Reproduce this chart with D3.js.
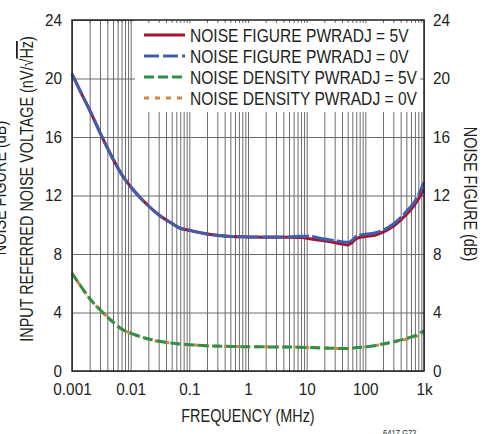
<!DOCTYPE html>
<html><head><meta charset="utf-8">
<script src="https://cdn.jsdelivr.net/npm/d3@7"></script>
<style>
html,body{margin:0;padding:0;background:#fff;}
svg{display:block;}
text{font-family:'Liberation Sans',Arial,sans-serif;fill:#231f20;}
</style></head>
<body>
<svg id="chart" width="487" height="434"></svg>
<script>
// ---- data ----
const freqMHz = [0.001,0.0015,0.002,0.003,0.005,0.007,0.01,0.02,0.03,0.05,0.07,0.1,0.2,0.5,1,2,5,8,12,20,30,40,50,60,70,100,150,200,300,500,700,1000];
const nf5V  = [20.3,18.85,17.84,16.3,14.5,13.45,12.6,11.3,10.68,10.1,9.76,9.62,9.37,9.2,9.17,9.15,9.14,9.12,9.03,8.9,8.78,8.68,8.62,8.8,9.05,9.2,9.3,9.5,9.9,10.7,11.4,12.45];
const nf0V  = [20.3,18.85,17.84,16.3,14.5,13.45,12.6,11.3,10.68,10.1,9.76,9.62,9.37,9.2,9.17,9.16,9.17,9.22,9.2,9.02,8.92,8.84,8.8,8.95,9.2,9.35,9.45,9.62,10.05,10.9,11.6,12.9];
const nd5V  = [6.68,5.65,4.95,4.19,3.35,2.87,2.59,2.19,2.03,1.91,1.84,1.8,1.72,1.68,1.66,1.65,1.64,1.62,1.6,1.57,1.55,1.54,1.54,1.56,1.6,1.65,1.75,1.85,2.0,2.22,2.42,2.75];
const nd0V  = [6.68,5.65,4.95,4.19,3.35,2.87,2.59,2.19,2.03,1.91,1.84,1.8,1.72,1.68,1.66,1.65,1.64,1.62,1.6,1.57,1.55,1.54,1.54,1.56,1.6,1.65,1.74,1.83,1.97,2.17,2.35,2.55];
const xTickValues = [0.001,0.01,0.1,1,10,100,1000];
const xTickLabels = ["0.001","0.01","0.1","1","10","100","1k"];
const yTickValues = [0,4,8,12,16,20,24];
const legendLabels = ["NOISE FIGURE PWRADJ = 5V","NOISE FIGURE PWRADJ = 0V","NOISE DENSITY PWRADJ = 5V","NOISE DENSITY PWRADJ = 0V"];

// ---- layout ----
const L=72, R=424, T=20, B=371;
const svg = d3.select("#chart");
const x = d3.scaleLog().domain([0.001,1000]).range([L,R]);
const y = d3.scaleLinear().domain([0,24]).range([B,T]);

// condensed look: squeeze glyphs horizontally
function condense(sel, f){
  sel.each(function(){
    const w = this.getComputedTextLength();
    if (w>0) { this.setAttribute("textLength", (w*f).toFixed(2)); this.setAttribute("lengthAdjust","spacingAndGlyphs"); }
  });
}

const minor = [];
for (let e=-3;e<3;e++) for (let m=1;m<10;m++) minor.push(m*Math.pow(10,e));
minor.push(1000);

// grid
const gridColor = "#6d6d6d";
const gx = svg.append("g").attr("transform",`translate(0,${B})`)
  .call(d3.axisBottom(x).tickValues(minor).tickSize(-(B-T)).tickFormat(""));
gx.select(".domain").remove();
gx.selectAll("line").attr("stroke",gridColor).attr("stroke-width",1);
const gy = svg.append("g").attr("transform",`translate(${L},0)`)
  .call(d3.axisLeft(y).tickValues(yTickValues).tickSize(-(R-L)).tickFormat(""));
gy.select(".domain").remove();
gy.selectAll("line").attr("stroke",gridColor).attr("stroke-width",1);

// legend background
svg.append("rect").attr("x",135).attr("y",T).attr("width",R-135).attr("height",92).attr("fill","#fff");
// short inward ticks on top edge & right edge
const tt = svg.append("g").attr("transform",`translate(0,${T})`)
  .call(d3.axisTop(x).tickValues(minor).tickSize(-3).tickFormat(""));
tt.select(".domain").remove();
tt.selectAll("line").attr("stroke",gridColor);
const tr = svg.append("g").attr("transform",`translate(${R},0)`)
  .call(d3.axisRight(y).tickValues(yTickValues).tickSize(-4).tickFormat(""));
tr.select(".domain").remove();
tr.selectAll("line").attr("stroke",gridColor);

// curves
const line = d3.line().x(d=>x(d[0])).y(d=>y(d[1])).curve(d3.curveMonotoneX);
const series = [
  {v:nf5V, color:"#a3142f", dash:null},
  {v:nf0V, color:"#3f5fae", dash:"22,3"},
  {v:nd0V, color:"#d2883c", dash:"5,5"},
  {v:nd5V, color:"#2f8f4a", dash:"10,4"}
];
series.forEach(s=>{
  svg.append("path").datum(freqMHz.map((f,i)=>[f,s.v[i]]))
    .attr("d",line).attr("fill","none").attr("stroke",s.color)
    .attr("stroke-width",3).attr("stroke-dasharray",s.dash);
});

// frame
svg.append("rect").attr("x",L).attr("y",T).attr("width",R-L).attr("height",B-T)
  .attr("fill","none").attr("stroke","#231f20").attr("stroke-width",1.5);

// axes labels
const ax = svg.append("g").attr("transform",`translate(0,${B})`)
  .call(d3.axisBottom(x).tickValues(xTickValues).tickSize(0).tickPadding(12)
    .tickFormat((d,i)=>xTickLabels[i]));
ax.select(".domain").remove();
ax.selectAll("text").attr("font-size",17).attr("font-family",null).call(condense,0.9);
const ayl = svg.append("g").attr("transform",`translate(${L},0)`)
  .call(d3.axisLeft(y).tickValues(yTickValues).tickSize(0).tickPadding(10));
ayl.select(".domain").remove();
ayl.selectAll("text").attr("font-size",17).attr("font-family",null).call(condense,0.9);
const ayr = svg.append("g").attr("transform",`translate(${R},0)`)
  .call(d3.axisRight(y).tickValues(yTickValues).tickSize(0).tickPadding(9));
ayr.select(".domain").remove();
ayr.selectAll("text").attr("font-size",17).attr("font-family",null).call(condense,0.9);

// axis titles
svg.append("text").attr("x",248).attr("y",422).attr("text-anchor","middle")
  .attr("font-size",18).text("FREQUENCY (MHz)").call(condense,0.8);
const lt = svg.append("text").attr("transform","translate(33,189) rotate(-90)")
  .attr("text-anchor","middle").attr("font-size",18);
lt.append("tspan").text("INPUT REFERRED NOISE VOLTAGE (nV/√");
lt.append("tspan").style("text-decoration","overline").text("Hz");
lt.append("tspan").text(")");
lt.call(condense,0.8);
svg.append("text").attr("transform","translate(6,188) rotate(-90)")
  .attr("text-anchor","middle").attr("font-size",18).text("NOISE FIGURE (dB)").call(condense,0.8);
svg.append("text").attr("transform","translate(464,194) rotate(90)")
  .attr("text-anchor","middle").attr("font-size",18).text("NOISE FIGURE (dB)").call(condense,0.8);
svg.append("text").attr("x",383).attr("y",436).attr("font-size",9).text("6417 G72").call(condense,0.85);

// legend
const lg = svg.append("g");
const rowsY = [35,56,77,98];
const legendStyle = [
  {color:"#a3142f", dash:null},
  {color:"#3f5fae", dash:"15,4"},
  {color:"#2f8f4a", dash:"10,4"},
  {color:"#d2883c", dash:"5,6"}
];
legendLabels.forEach((lab,i)=>{
  lg.append("line").attr("x1",144).attr("x2",185).attr("y1",rowsY[i]).attr("y2",rowsY[i])
    .attr("stroke",legendStyle[i].color).attr("stroke-width",3).attr("stroke-dasharray",legendStyle[i].dash);
  lg.append("text").attr("x",190).attr("y",rowsY[i]).attr("dy","0.35em")
    .attr("font-size",19).text(lab).call(condense,0.82);
});
</script>
</body></html>
